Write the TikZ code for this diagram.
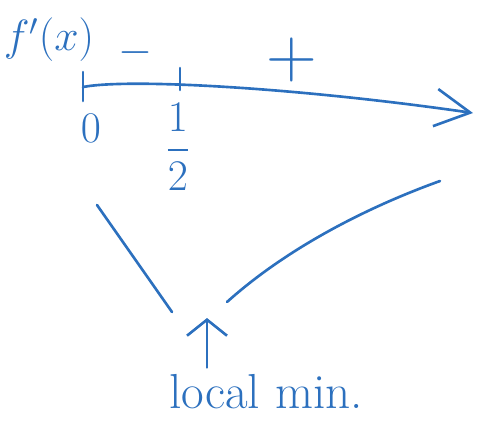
\documentclass[tikz,border=0pt]{standalone}
\usepackage{amsmath}
\usepackage{tikz}
\usetikzlibrary{arrows.meta, positioning, calc}
\definecolor{penblue}{RGB}{44, 112, 190}

\begin{document}
\begin{tikzpicture}[x=0.02cm, y=-0.02cm,
    ink/.style={draw=penblue, line width=1.5pt, line cap=round},
    lbl/.style={text=penblue, inner sep=0pt, font=\fontsize{24}{28}\selectfont},
    arrow/.style={ink, -{Straight Barb[length=0.7cm, width=0.75cm, line width=1.5pt]}},
    uparrow/.style={ink, -{Straight Barb[length=0.32cm, width=0.8cm, line width=1.5pt]}}
]
\useasboundingbox (0,0) rectangle (490,427);

% sign line of f'
\node (FPRIME) [lbl, font=\fontsize{25}{30}\selectfont] at (49,40) {$f'(x)$};
\coordinate (ZERO) at (83,87);
\coordinate (HALF) at (180,80);
\coordinate (END) at (473,113);
\draw [arrow] (ZERO) .. controls (130,78) and (300,88) .. (END);
\draw [ink] (ZERO) ++(0,-15) -- ++(0,29);
\draw [ink] (HALF) ++(0,-12) -- ++(0,22);

\node (ZEROLBL) [lbl] at (91,128) {$0$};
\node (HALFLBL) [lbl] at (178,147) {$\displaystyle\frac{1}{2}$};
\node (MINUS) [lbl, font=\fontsize{30}{34}\selectfont] at (135,53) {$-$};
\node (PLUS) [lbl, font=\fontsize{40}{44}\selectfont] at (292,60) {+};

% shape of f
\coordinate (LTOP) at (97,205);
\coordinate (LBOT) at (172,312);
\coordinate (RBOT) at (227,302);
\coordinate (RTOP) at (440,181);
\draw [ink] (LTOP) -- (LBOT);
\draw [ink] (RBOT) .. controls (286,249) and (365,208) .. (RTOP);

% minimum
\node (MINLBL) [lbl, font=\fontsize{28}{32}\selectfont, anchor=base] at (266,408) {local min.};
\coordinate (MINPT) at (207,318);
\draw [uparrow] (MINLBL.north -| MINPT) ++(0,-6) -- (MINPT);

\end{tikzpicture}
\end{document}
